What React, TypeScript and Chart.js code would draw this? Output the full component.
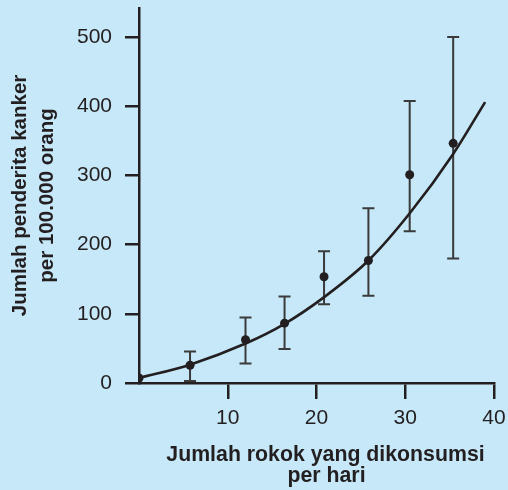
import React, { useEffect, useRef } from 'react';
import { Chart, registerables } from 'chart.js';

Chart.register(...registerables);

// Observed data (cigarettes per day vs. cancer cases per 100,000 people)
const cigarettesPerDay = [0, 5.75, 12, 16.4, 20.85, 25.85, 30.5, 35.4];
const casesPer100k = [7.2, 25.6, 62.5, 86.5, 153.5, 177, 301, 346.4];
const errorUpper: (number | null)[] = [null, 45.4, 94.7, 125, 190.3, 252.6, 407.7, 500];
const errorLower: (number | null)[] = [null, 2.9, 28.2, 49.3, 114, 126, 219.3, 180.1];

// Fitted trend curve
const fitX = [0, 5.75, 12, 16.4, 20.9, 25.85, 30.55, 35.4, 39];
const fitY = [7.2, 26.5, 57, 85.5, 124.5, 177, 246, 331, 406];

const xTickValues = [10, 20, 30, 40];
const yTickValues = [0, 100, 200, 300, 400, 500];

const xTitle = ['Jumlah rokok yang dikonsumsi', 'per hari'];
const yTitle = ['Jumlah penderita kanker', 'per 100.000 orang'];

const INK = '#231f20';
const BG = '#c6e8f8';
const FONT = "'Liberation Sans', Arial, Helvetica, sans-serif";

const errorBarPlugin = {
  id: 'errorBars',
  beforeDatasetsDraw(chart: any) {
    const { ctx, scales } = chart;
    const xs = scales.x;
    const ys = scales.y;
    ctx.save();
    ctx.strokeStyle = '#3a3a3a';
    ctx.lineWidth = 2;
    const cap = 6;
    for (let i = 0; i < cigarettesPerDay.length; i++) {
      const up = errorUpper[i];
      const lo = errorLower[i];
      if (up == null || lo == null) continue;
      const px = xs.getPixelForValue(cigarettesPerDay[i]);
      const pTop = ys.getPixelForValue(up);
      const pBot = ys.getPixelForValue(lo);
      ctx.beginPath();
      ctx.moveTo(px, pTop);
      ctx.lineTo(px, pBot);
      ctx.moveTo(px - cap, pTop);
      ctx.lineTo(px + cap, pTop);
      ctx.moveTo(px - cap, pBot);
      ctx.lineTo(px + cap, pBot);
      ctx.stroke();
    }
    ctx.restore();
  },
};

// X-axis title, centred slightly right of the plot area as in the original
const xTitlePlugin = {
  id: 'xAxisTitle',
  afterDraw(chart: any) {
    const { ctx, chartArea } = chart;
    const cx = (chartArea.left + chartArea.right) / 2 + 9;
    ctx.save();
    ctx.fillStyle = INK;
    ctx.font = `bold 21.3px ${FONT}`;
    ctx.textAlign = 'center';
    ctx.textBaseline = 'alphabetic';
    ctx.fillText(xTitle[0], cx, chartArea.bottom + 78);
    ctx.fillText(xTitle[1], cx + 1, chartArea.bottom + 99.3);
    ctx.restore();
  },
};

export default function App() {
  const canvasRef = useRef<HTMLCanvasElement | null>(null);

  useEffect(() => {
    if (!canvasRef.current) return;
    const chart = new Chart(canvasRef.current, {
      type: 'scatter',
      data: {
        datasets: [
          {
            label: 'Data',
            data: cigarettesPerDay.map((x, i) => ({ x, y: casesPer100k[i] })),
            backgroundColor: INK,
            borderColor: INK,
            pointRadius: 4.5,
            pointBorderWidth: 0,
            showLine: false,
          },
          {
            label: 'Trend',
            data: fitX.map((x, i) => ({ x, y: fitY[i] })),
            borderColor: INK,
            borderWidth: 2.6,
            pointRadius: 0,
            showLine: true,
            fill: false,
            cubicInterpolationMode: 'monotone',
          } as any,
        ],
      },
      options: {
        animation: false,
        responsive: false,
        devicePixelRatio: 1,
        layout: { padding: { left: 0, top: 8, right: 14, bottom: 0 } },
        plugins: { legend: { display: false }, tooltip: { enabled: false } },
        scales: {
          x: {
            type: 'linear',
            min: 0,
            max: 40,
            afterBuildTicks: (s: any) => {
              s.ticks = xTickValues.map((v) => ({ value: v }));
            },
            afterFit: (s: any) => {
              s.height = 107;
              s.paddingLeft = 0;
              s.paddingRight = 0;
            },
            grid: {
              display: true,
              drawOnChartArea: false,
              drawTicks: true,
              tickLength: 16,
              color: INK,
              lineWidth: 2.5,
            },
            border: { display: true, color: INK, width: 2.5 },
            ticks: {
              color: INK,
              padding: 7,
              font: { family: FONT, size: 21 },
              maxRotation: 0,
            },
            title: { display: false },
          },
          y: {
            type: 'linear',
            min: 0,
            max: 542,
            afterBuildTicks: (s: any) => {
              s.ticks = yTickValues.map((v) => ({ value: v }));
            },
            afterFit: (s: any) => {
              s.width = 139;
              s.paddingTop = 0;
              s.paddingBottom = 0;
            },
            grid: {
              display: true,
              drawOnChartArea: false,
              drawTicks: true,
              tickLength: 14,
              color: INK,
              lineWidth: 2.5,
            },
            border: { display: true, color: INK, width: 2.5 },
            ticks: {
              color: INK,
              padding: 13,
              font: { family: FONT, size: 21 },
            },
            title: {
              display: true,
              text: yTitle,
              color: INK,
              font: { family: FONT, size: 20.5, weight: 'bold', lineHeight: 1.3 },
              padding: { top: 7, bottom: 0 },
            },
          },
        },
      },
      plugins: [errorBarPlugin, xTitlePlugin],
    } as any);
    return () => chart.destroy();
  }, []);

  return (
    <div
      style={{
        position: 'absolute',
        left: 0,
        top: 0,
        width: 508,
        height: 490,
        background: BG,
      }}
    >
      <canvas ref={canvasRef} width={508} height={490} style={{ display: 'block' }} />
    </div>
  );
}
